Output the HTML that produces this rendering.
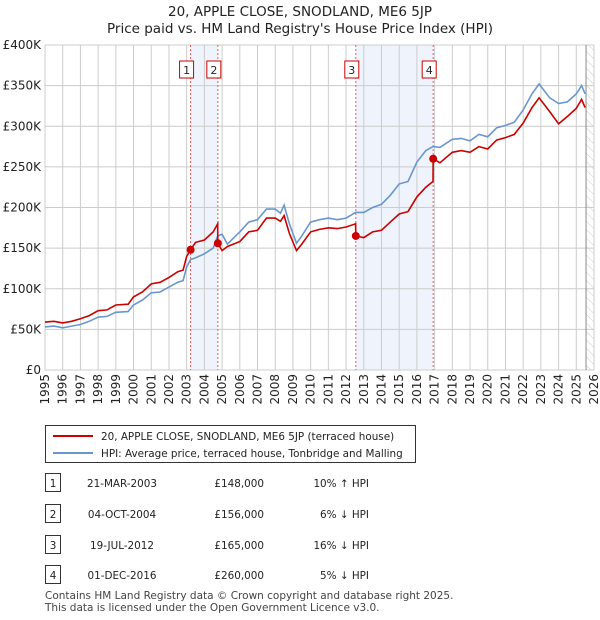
<!DOCTYPE html>
<html><head><meta charset="utf-8"><style>
body{margin:0;background:#fff;font-family:"Liberation Sans","DejaVu Sans",sans-serif;}
#wrap{position:relative;width:600px;height:620px;overflow:hidden}
svg text{font-family:"DejaVu Sans","Liberation Sans",sans-serif}
</style></head><body><div id="wrap">
<svg id="chart" width="600" height="620"></svg>
</div>
<script>
const times=[1995,1995.5,1996,1996.5,1997,1997.5,1998,1998.5,1999,1999.7,2000,2000.5,2001,2001.5,2002,2002.5,2002.8,2003,2003.22,2003.5,2004,2004.5,2004.75,2004.76,2005,2005.3,2006,2006.5,2007,2007.5,2008,2008.3,2008.5,2008.8,2009.2,2009.5,2010,2010.5,2011,2011.5,2012,2012.54,2012.55,2013,2013.5,2014,2014.5,2015,2015.5,2016,2016.5,2016.91,2016.92,2017.3,2018,2018.5,2019,2019.5,2020,2020.5,2021,2021.5,2022,2022.5,2022.9,2023.5,2024,2024.5,2025,2025.3,2025.5];
const hpiValues=[53,54,52,54,56,60,65,66,71,72,80,86,95,96,102,108,110,127,136,138,143,150,165,165,167,155,170,182,185,198,198,193,203,180,156,165,182,185,187,185,187,194,194,194,200,204,215,229,232,256,270,275,275,274,284,285,282,290,287,298,301,305,320,340,352,335,328,330,340,350,340];
const priceValues=[59,60,58,60,63,67,73,74,80,81,90,96,106,108,114,121,123,140,148,157,160,170,180,156,147,152,158,170,172,187,187,183,190,168,147,155,170,173,175,174,176,180,165,163,170,172,182,192,195,213,225,232,260,255,268,270,268,275,272,283,286,290,304,323,335,318,303,312,322,333,323];
const saleTimes=[2003.22,2004.76,2012.55,2016.92];
const salePrices=[148,156,165,260];
const saleLabels=["1","2","3","4"];
const yTicks=[0,50,100,150,200,250,300,350,400];
const yTickLabels=["£0","£50K","£100K","£150K","£200K","£250K","£300K","£350K","£400K"];
const xYears=[];for(let y=1995;y<=2026;y++)xYears.push(y);

const L=45,R=594,T=45,B=370,X0=1995,X1=2026;
const sx=t=>L+(t-X0)/(X1-X0)*(R-L);
const sy=v=>B-v/400*(B-T);
const NS="http://www.w3.org/2000/svg";
const svg=document.getElementById('chart');
function mk(tag,attrs,parent){const e=document.createElementNS(NS,tag);for(const k in attrs)e.setAttribute(k,attrs[k]);(parent||svg).appendChild(e);return e;}

let t1=mk('text',{x:300,y:16,'text-anchor':'middle','font-size':13.5,fill:'#222'});t1.textContent="20, APPLE CLOSE, SNODLAND, ME6 5JP";


let t2=mk('text',{x:300,y:33,'text-anchor':'middle','font-size':13.5,fill:'#222'});t2.textContent="Price paid vs. HM Land Registry's House Price Index (HPI)";



const defs=mk('defs',{});
const pat=mk('pattern',{id:'hatch',width:6,height:6,patternUnits:'userSpaceOnUse',patternTransform:'rotate(-45)'},defs);
mk('line',{x1:0,y1:0,x2:0,y2:6,stroke:'#ccc','stroke-width':1},pat);

for(let i=0;i<saleTimes.length;i+=2){
 const r=mk('rect',{x:sx(saleTimes[i]),y:T,width:sx(saleTimes[i+1])-sx(saleTimes[i]),height:B-T,fill:'#eef3fc'});
 
 
}
const hx=sx(2025.55);
const hr=mk('rect',{x:hx,y:T,width:R-hx,height:B-T,fill:'url(#hatch)'});



yTicks.forEach((v,i)=>{
 const g=mk('line',{x1:L,x2:R,y1:sy(v),y2:sy(v),stroke:'#ccc','stroke-width':1});
 
 
 const tx=mk('text',{x:L-4,y:sy(v)+4,'text-anchor':'end','font-size':12,fill:'#222'});tx.textContent=yTickLabels[i];
 
 
});
xYears.forEach(y=>{
 const g=mk('line',{x1:sx(y),x2:sx(y),y1:T,y2:B,stroke:'#ccc','stroke-width':1});
 
 
 const tx=mk('text',{x:0,y:0,'text-anchor':'end','font-size':12,fill:'#222',transform:`translate(${sx(y)+4},${B+4}) rotate(-90)`});tx.textContent=y;
 
 
});
const hl=mk('line',{x1:hx,x2:hx,y1:T,y2:B,stroke:'#888','stroke-width':1});



saleTimes.forEach((t,i)=>{
 const l=mk('line',{x1:sx(t),x2:sx(t),y1:T,y2:B,stroke:'#e55','stroke-width':1,'stroke-dasharray':'2,2'});
 
 
 const bx=mk('rect',{x:sx(t)-11,y:61,width:14,height:17,fill:'#fff',stroke:'#c00','stroke-width':1});
 
 
 const tx=mk('text',{x:sx(t)-4,y:74,'text-anchor':'middle','font-size':11,fill:'#222'});tx.textContent=saleLabels[i];
 
 
});

function path(vals){return vals.map((v,i)=>(i?'L':'M')+sx(times[i]).toFixed(1)+','+sy(v).toFixed(1)).join('');}
const hp=mk('path',{d:path(hpiValues),fill:'none',stroke:'#6a96d0','stroke-width':1.6});


const pp=mk('path',{d:path(priceValues),fill:'none',stroke:'#cc0000','stroke-width':1.6});


saleTimes.forEach((t,i)=>{
 const c=mk('circle',{cx:sx(t),cy:sy(salePrices[i]),r:4,fill:'#cc0000'});
 
 
});

const lg=mk('g',{});


mk('rect',{x:45.5,y:425.5,width:370,height:37,fill:'#fff',stroke:'#333','stroke-width':1},lg);
mk('line',{x1:53,x2:93,y1:436,y2:436,stroke:'#cc0000','stroke-width':2},lg);
mk('line',{x1:53,x2:93,y1:453,y2:453,stroke:'#6a96d0','stroke-width':2},lg);
let le1=mk('text',{x:101,y:440,'font-size':10.4,fill:'#222'},lg);le1.textContent="20, APPLE CLOSE, SNODLAND, ME6 5JP (terraced house)";


let le2=mk('text',{x:101,y:457,'font-size':10.4,fill:'#222'},lg);le2.textContent="HPI: Average price, terraced house, Tonbridge and Malling";



const rows=[["1","21-MAR-2003","£148,000","10% ↑ HPI"],["2","04-OCT-2004","£156,000","6% ↓ HPI"],["3","19-JUL-2012","£165,000","16% ↓ HPI"],["4","01-DEC-2016","£260,000","5% ↓ HPI"]];
const rowY=[483,514,545,575];
rows.forEach((r,i)=>{
 const y=rowY[i];
 const g=mk('g',{});
 
 
 mk('rect',{x:45.5,y:y-9.5,width:15,height:18,fill:'#fff',stroke:'#333','stroke-width':1},g);
 let a=mk('text',{x:53,y:y+4,'text-anchor':'middle','font-size':10.4,fill:'#222'},g);a.textContent=r[0];
 let b=mk('text',{x:122,y:y+4,'text-anchor':'middle','font-size':10.4,fill:'#222'},g);b.textContent=r[1];
 let c=mk('text',{x:264,y:y+4,'text-anchor':'end','font-size':10.4,fill:'#222'},g);c.textContent=r[2];
 let d=mk('text',{x:369,y:y+4,'text-anchor':'end','font-size':10.4,fill:'#222'},g);d.textContent=r[3];
});
let f1=mk('text',{x:45,y:599,'font-size':10.5,fill:'#444'});f1.textContent="Contains HM Land Registry data © Crown copyright and database right 2025.";


let f2=mk('text',{x:45,y:611,'font-size':10.5,fill:'#444'});f2.textContent="This data is licensed under the Open Government Licence v3.0.";


</script></body></html>
